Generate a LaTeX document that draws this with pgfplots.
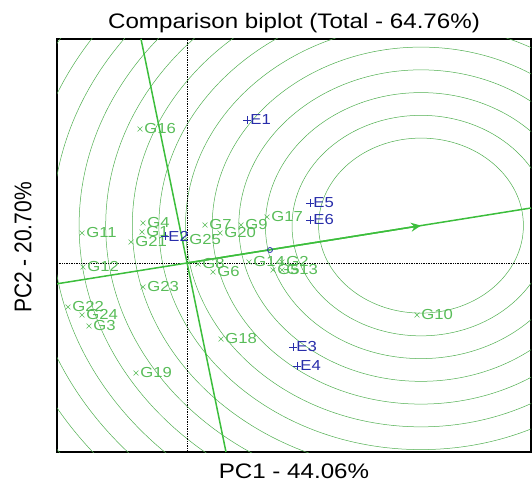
\documentclass[border=0pt]{standalone}
\usepackage{graphicx}
\usepackage{fontspec}
\setmainfont{Liberation Sans}
\usepackage{pgfplots}
\pgfplotsset{compat=1.18}
\usetikzlibrary{arrows.meta}
\definecolor{gcol}{RGB}{88,188,88}
\definecolor{ringcol}{RGB}{80,175,80}
\definecolor{linecol}{RGB}{60,190,60}
\definecolor{ecol}{RGB}{40,45,170}
\tikzset{ring/.style={ringcol, line width=0.5pt}}
\begin{document}
\begin{tikzpicture}
\begin{axis}[name=ax, x=1pt, y=1pt,
  xmin=-130, xmax=344, ymin=-189, ymax=224,
  xtick=\empty, ytick=\empty,
  axis line style={line width=1.5pt},
  title={\scalebox{1.15}[1]{Comparison biplot (Total - 64.76\%)}},
  title style={font=\fontsize{21}{21}\selectfont, yshift=-3pt},
  xlabel={\scalebox{1.15}[1]{PC1 - 44.06\%}},
  xlabel style={font=\fontsize{21}{21}\selectfont, yshift=-8pt},
  clip=true]
% concentric rings centred on the ideal point
\draw[ring] (axis cs:234,37.4) ellipse [x radius=102.4pt, y radius=87.5pt];
\draw[ring] (axis cs:234,37.4) ellipse [x radius=129.0pt, y radius=110.25pt];
\draw[ring] (axis cs:234,37.4) ellipse [x radius=155.6pt, y radius=133pt];
\draw[ring] (axis cs:234,37.4) ellipse [x radius=182.2pt, y radius=155.75pt];
\draw[ring] (axis cs:234,37.4) ellipse [x radius=208.8pt, y radius=178.5pt];
\draw[ring] (axis cs:234,37.4) ellipse [x radius=235.5pt, y radius=201.25pt];
\draw[ring] (axis cs:234,37.4) ellipse [x radius=262.1pt, y radius=224pt];
\draw[ring] (axis cs:234,37.4) ellipse [x radius=288.7pt, y radius=246.75pt];
\draw[ring] (axis cs:234,37.4) ellipse [x radius=315.3pt, y radius=269.5pt];
\draw[ring] (axis cs:234,37.4) ellipse [x radius=341.9pt, y radius=292.25pt];
\draw[ring] (axis cs:234,37.4) ellipse [x radius=368.6pt, y radius=315pt];
\draw[ring] (axis cs:234,37.4) ellipse [x radius=395.2pt, y radius=337.75pt];
\draw[ring] (axis cs:234,37.4) ellipse [x radius=421.8pt, y radius=360.5pt];
\draw[ring] (axis cs:234,37.4) ellipse [x radius=448.4pt, y radius=383.25pt];
\draw[ring] (axis cs:234,37.4) ellipse [x radius=475.0pt, y radius=406pt];
% reference dotted axes
\addplot[black, densely dotted, line width=0.7pt] coordinates {(-130,0) (344,0)};
\addplot[black, densely dotted, line width=0.7pt] coordinates {(0,-189) (0,224)};
% average environment axis and its perpendicular
\addplot[linecol, line width=1.5pt] coordinates {(-130,-20.8) (344,55)};
\addplot[linecol, line width=1.5pt, -{Stealth[length=10pt,width=9pt]}] coordinates {(0,0) (234,37.4)};
\addplot[linecol, line width=1.5pt] coordinates {(-46,224) (39,-189)};
% average environment marker
\addplot[only marks, mark=o, mark size=2.5pt, ecol, mark options={line width=0.8pt}] coordinates {(83,13)};
% genotypes
\addplot[only marks, mark=x, mark size=3.5pt, gcol, mark options={line width=0.6pt},
  nodes near coords, point meta=explicit symbolic,
  nodes near coords style={anchor=west, inner sep=0pt, xshift=4pt, xscale=1.15, text=gcol, font=\fontsize{14.5}{14.5}\selectfont}]
table[meta=label]{
x y label
-45 31 G1
95 1 G2
-98 -63 G3
-44 40 G4
86 -7 G5
26 -9 G6
18 38 G7
11 -1 G8
54 38 G9
230 -52 G10
-105 30 G11
-104 -4 G12
95 -7 G13
62 1 G14
-47 134 G16
80 46 G17
34 -76 G18
-51 -110 G19
33 30 G20
-56 21 G21
-119 -44 G22
-44 -24 G23
-105 -52 G24
-2 23 G25
};
% environments
\addplot[only marks, mark=+, mark size=4pt, ecol, mark options={line width=0.7pt},
  nodes near coords, point meta=explicit symbolic,
  nodes near coords style={anchor=west, inner sep=0pt, xshift=3pt, xscale=1.15, text=ecol, font=\fontsize{14.5}{14.5}\selectfont}]
table[meta=label]{
x y label
60 143 E1
-22 27 E2
106 -84 E3
110 -103 E4
123 60 E5
123 43 E6
};
\end{axis}
\node[rotate=90, anchor=center, inner sep=0pt, font=\fontsize{21}{21}\selectfont] at ([xshift=-34pt,yshift=-2pt]ax.west) {\scalebox{1}[1.15]{PC2 - 20.70\%}};
\pgfresetboundingbox
\path ([xshift=-57pt,yshift=-43pt]ax.south west) rectangle ([xshift=1pt,yshift=39pt]ax.north east);
\end{tikzpicture}
\end{document}
